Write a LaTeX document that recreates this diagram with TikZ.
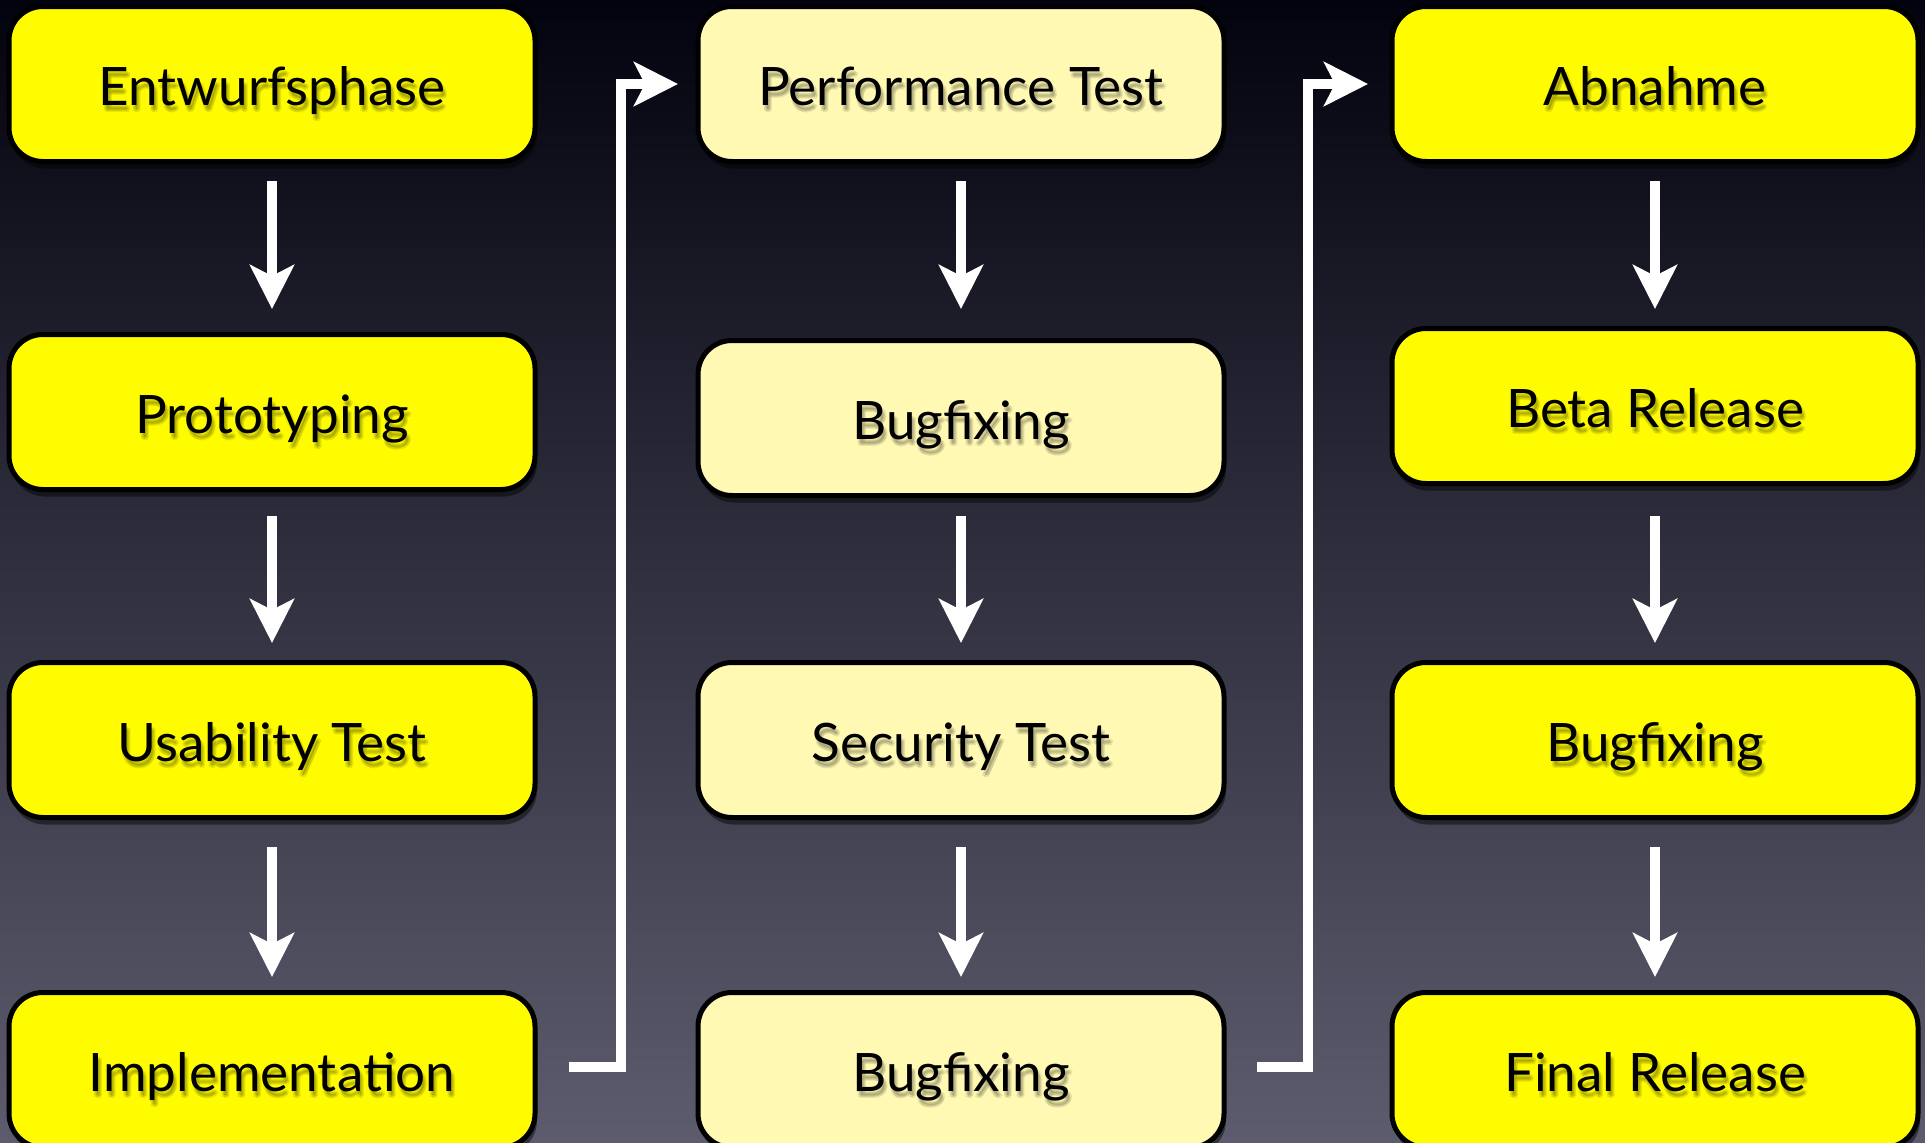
\documentclass[tikz,border=0pt]{standalone}
\usepackage{fontspec}
\setmainfont{Lato}
\usetikzlibrary{arrows.meta,shadows,calc}

\definecolor{bgtop}{HTML}{03030F}
\definecolor{bgmid}{HTML}{2C2C44}
\definecolor{bgbot}{HTML}{5C5C6E}
\definecolor{hiyellow}{HTML}{FFFC00}
\definecolor{paleyellow}{HTML}{FFF9B4}

\tikzset{
  stage/.style={draw=black, line width=5pt, rounded corners=34pt,
    minimum width=526pt, minimum height=155pt, inner sep=0pt,
    font=\fontsize{53}{60}\selectfont, text height=42pt, text depth=0pt,
    drop shadow={shadow xshift=2pt, shadow yshift=-7pt, opacity=0.45, fill=black}},
  bright/.style={stage, fill=hiyellow},
  pale/.style={stage, fill=paleyellow},
  tshadow/.style={inner sep=0pt, font=\fontsize{53}{60}\selectfont,
    text height=42pt, text depth=0pt, text=black, text opacity=0.09},
  flow/.style={draw=white, line width=10pt,
    -{Stealth[length=44pt, width=44pt, inset=11pt]}},
  gap/.style 2 args={shorten <=#1pt, shorten >=#2pt},
}

\begin{document}
\begin{tikzpicture}[x=1pt, y=-1pt]
  \useasboundingbox (0,0) rectangle (1925,1143);
  \clip (0,0) rectangle (1925,1143);
  \shade[top color=bgtop, middle color=bgmid, bottom color=bgbot]
    (0,0) rectangle (1925,1143);

  % first column
  \node[bright] (c1r1) at (272,84)   {Entwurfsphase};
  \node[bright] (c1r2) at (272,412)  {Prototyping};
  \node[bright] (c1r3) at (272,740)  {Usability Test};
  \node[bright] (c1r4) at (272,1070) {Implementation};

  % second column
  \node[pale] (c2r1) at (961,84)   {Performance Test};
  \node[pale] (c2r2) at (961,418)  {Bugfixing};
  \node[pale] (c2r3) at (961,740)  {Security Test};
  \node[pale] (c2r4) at (961,1070) {Bugfixing};

  % third column
  \node[bright] (c3r1) at (1655,84)   {Abnahme};
  \node[bright] (c3r2) at (1655,406)  {Beta Release};
  \node[bright] (c3r3) at (1655,740)  {Bugfixing};
  \node[bright] (c3r4) at (1655,1070) {Final Release};

  % soft glow under the labels
  \foreach \n/\t in {c1r1/Entwurfsphase, c1r2/Prototyping, c1r3/Usability Test,
      c1r4/Implementation, c2r1/Performance Test, c2r2/Bugfixing,
      c2r3/Security Test, c2r4/Bugfixing, c3r1/Abnahme, c3r2/Beta Release,
      c3r3/Bugfixing, c3r4/Final Release}{
    \foreach \dx/\dy in {2/4, 4/5, 3/7, 1/6}
      \node[tshadow] at ([shift={(\dx,\dy)}]\n.center) {\t};
  }

  % arrows down each column
  \draw[flow, gap={17}{23}] (c1r1) -- (c1r2);
  \draw[flow, gap={24}{17}] (c1r2) -- (c1r3);
  \draw[flow, gap={27}{13}] (c1r3) -- (c1r4);

  \draw[flow, gap={17}{29}] (c2r1) -- (c2r2);
  \draw[flow, gap={18}{17}] (c2r2) -- (c2r3);
  \draw[flow, gap={27}{13}] (c2r3) -- (c2r4);

  \draw[flow, gap={17}{17}] (c3r1) -- (c3r2);
  \draw[flow, gap={30}{17}] (c3r2) -- (c3r3);
  \draw[flow, gap={27}{13}] (c3r3) -- (c3r4);

  % links from the bottom of one column to the top of the next
  \draw[flow] ([shift={(31pt,3pt)}]c1r4.east) -- ([shift={(83pt,3pt)}]c1r4.east)
    |- ([xshift=-17.5pt]c2r1.west);
  \draw[flow] ([shift={(30.5pt,3pt)}]c2r4.east) -- ([shift={(81.5pt,3pt)}]c2r4.east)
    |- ([xshift=-21.5pt]c3r1.west);
\end{tikzpicture}
\end{document}
